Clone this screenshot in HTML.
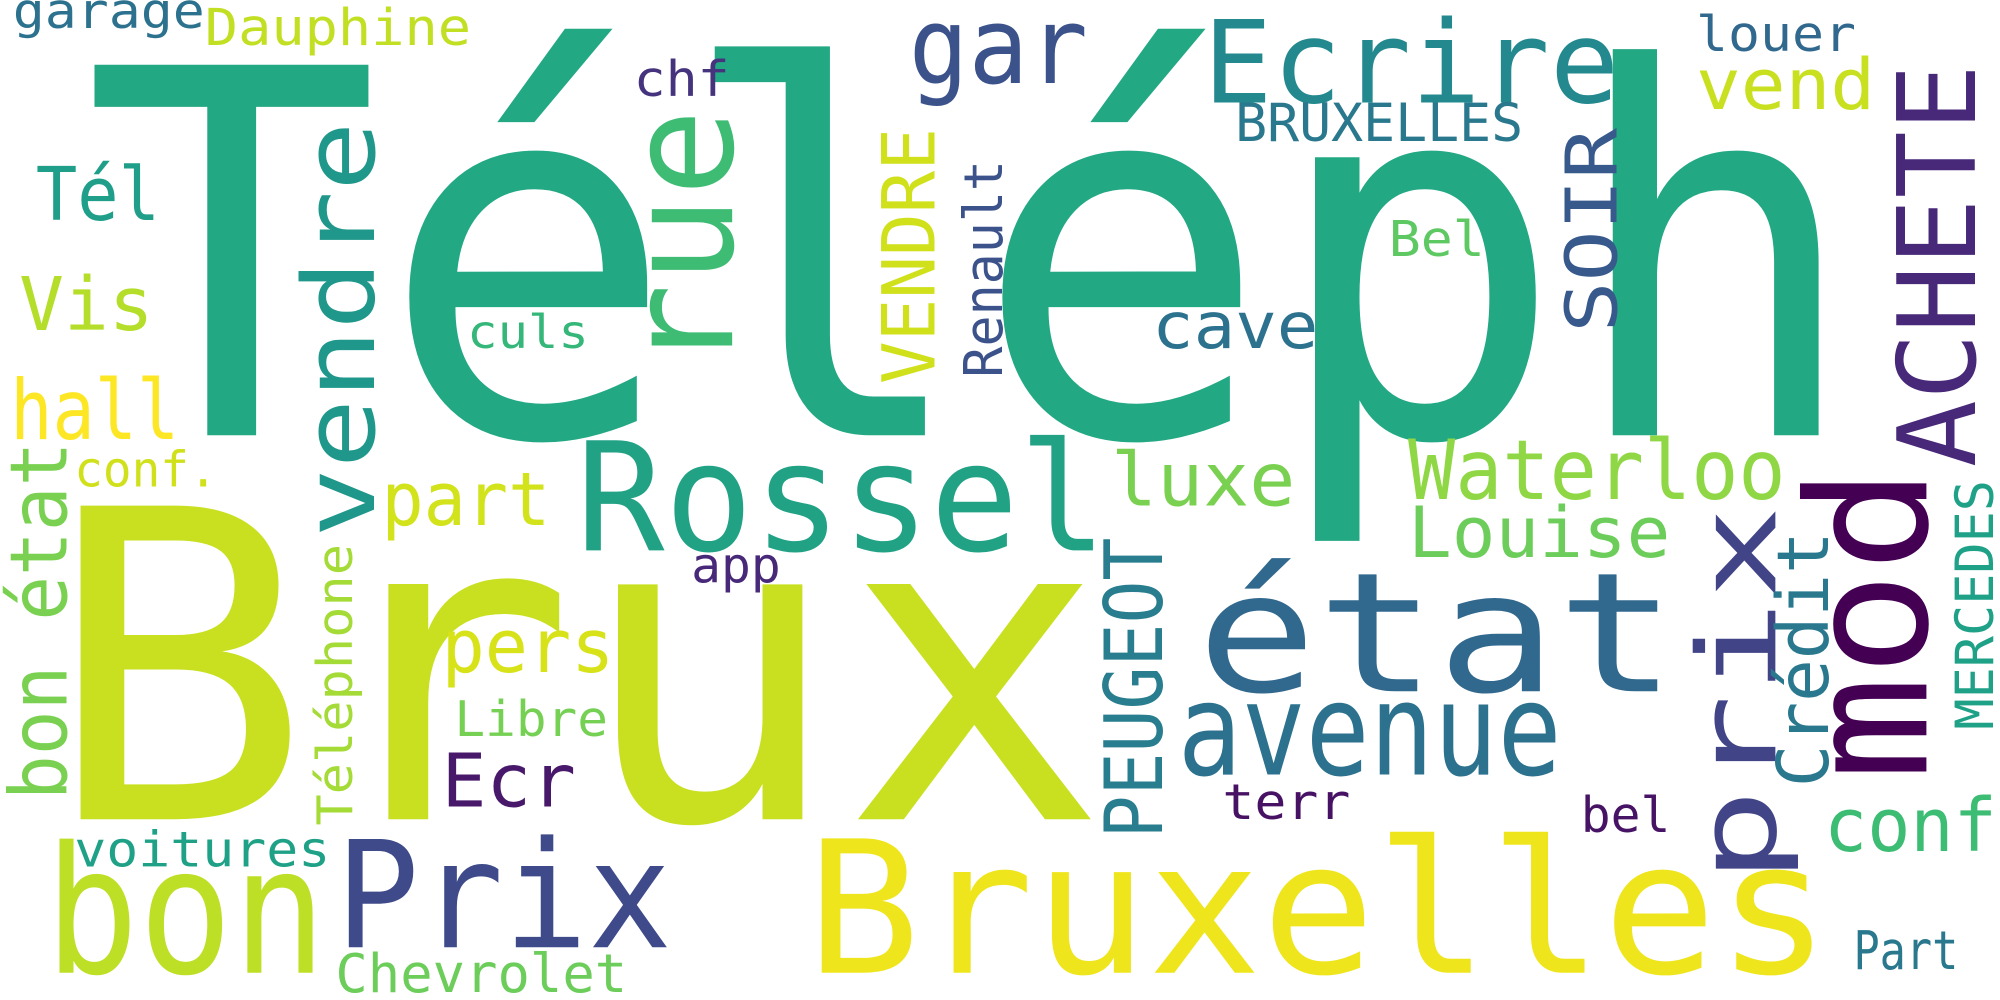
<!DOCTYPE html>
<html><head><meta charset="utf-8"><style>
html,body{margin:0;padding:0;background:#fff;}
svg{display:block;}
text{font-family:"DejaVu Sans Mono","Liberation Mono",monospace;}
</style></head><body>
<svg width="2000" height="1000" viewBox="0 0 1562.5 781.25" xmlns="http://www.w3.org/2000/svg">
<rect width="1562.5" height="781.25" fill="#fff"/>
<g lengthAdjust="spacingAndGlyphs">
<text x="65" y="340" font-size="397" fill="#23a884" textLength="1390" lengthAdjust="spacingAndGlyphs">Téléph</text>
<text x="35" y="640" font-size="336" fill="#c8e020" textLength="830" lengthAdjust="spacingAndGlyphs">Brux</text>
<text x="630" y="760" font-size="144" fill="#efe51c" textLength="800" lengthAdjust="spacingAndGlyphs">Bruxelles</text>
<text x="35" y="760" font-size="138" fill="#bddf26" textLength="220" lengthAdjust="spacingAndGlyphs">bon</text>
<text x="262" y="740" font-size="116" fill="#3e4a89" textLength="263" lengthAdjust="spacingAndGlyphs">Prix</text>
<text x="450" y="430" font-size="118" fill="#22a285" textLength="415" lengthAdjust="spacingAndGlyphs">Rossel</text>
<text x="935" y="540" font-size="130" fill="#31688e" textLength="375" lengthAdjust="spacingAndGlyphs">état</text>
<text x="920" y="605" font-size="100" fill="#2c728e" textLength="300" lengthAdjust="spacingAndGlyphs">avenue</text>
<text x="940" y="80" font-size="89" fill="#23898e" textLength="325" lengthAdjust="spacingAndGlyphs">Ecrire</text>
<text x="710" y="65" font-size="83" fill="#3b528b" textLength="140" lengthAdjust="spacingAndGlyphs">gar</text>
<text x="495" y="75" font-size="38" fill="#46337e" textLength="75" lengthAdjust="spacingAndGlyphs">chf</text>
<text x="1325" y="40" font-size="38" fill="#31688e" textLength="125" lengthAdjust="spacingAndGlyphs">louer</text>
<text x="965" y="110" font-size="41" fill="#2a788e" textLength="225" lengthAdjust="spacingAndGlyphs">BRUXELLES</text>
<text x="1325" y="85" font-size="55" fill="#c8e020" textLength="140" lengthAdjust="spacingAndGlyphs">vend</text>
<text x="10" y="22" font-size="38" fill="#2c728e" textLength="150" lengthAdjust="spacingAndGlyphs">garage</text>
<text x="160" y="35" font-size="40" fill="#c2df23" textLength="208" lengthAdjust="spacingAndGlyphs">Dauphine</text>
<text x="28" y="172" font-size="58" fill="#1f9e89" textLength="97" lengthAdjust="spacingAndGlyphs">Tél</text>
<text x="15" y="258" font-size="58" fill="#b5de2b" textLength="105" lengthAdjust="spacingAndGlyphs">Vis</text>
<text x="8" y="343" font-size="65" fill="#fde725" textLength="132" lengthAdjust="spacingAndGlyphs">hall</text>
<text x="58" y="380" font-size="38" fill="#d0e11c" textLength="112" lengthAdjust="spacingAndGlyphs">conf.</text>
<text x="900" y="272" font-size="50" fill="#2c728e" textLength="130" lengthAdjust="spacingAndGlyphs">cave</text>
<text x="365" y="272" font-size="36" fill="#35b779" textLength="95" lengthAdjust="spacingAndGlyphs">culs</text>
<text x="1085" y="200" font-size="38" fill="#5ec962" textLength="75" lengthAdjust="spacingAndGlyphs">Bel</text>
<text x="868" y="395" font-size="58" fill="#7ad151" textLength="144" lengthAdjust="spacingAndGlyphs">luxe</text>
<text x="1100" y="390" font-size="65" fill="#8fd744" textLength="295" lengthAdjust="spacingAndGlyphs">Waterloo</text>
<text x="1100" y="435" font-size="55" fill="#6ccd5a" textLength="205" lengthAdjust="spacingAndGlyphs">Louise</text>
<text x="298" y="410" font-size="58" fill="#d2e21b" textLength="132" lengthAdjust="spacingAndGlyphs">part</text>
<text x="540" y="455" font-size="38" fill="#482878" textLength="70" lengthAdjust="spacingAndGlyphs">app</text>
<text x="345" y="525" font-size="58" fill="#d8e219" textLength="135" lengthAdjust="spacingAndGlyphs">pers</text>
<text x="345" y="630" font-size="58" fill="#48186a" textLength="105" lengthAdjust="spacingAndGlyphs">Ecr</text>
<text x="355" y="575" font-size="38" fill="#75d054" textLength="120" lengthAdjust="spacingAndGlyphs">Libre</text>
<text x="955" y="640" font-size="38" fill="#471164" textLength="100" lengthAdjust="spacingAndGlyphs">terr</text>
<text x="1235" y="650" font-size="38" fill="#471365" textLength="70" lengthAdjust="spacingAndGlyphs">bel</text>
<text x="1425" y="665" font-size="58" fill="#3dbc74" textLength="135" lengthAdjust="spacingAndGlyphs">conf</text>
<text x="58" y="677" font-size="38" fill="#1fa187" textLength="200" lengthAdjust="spacingAndGlyphs">voitures</text>
<text x="262" y="775" font-size="42" fill="#6ccd5a" textLength="228" lengthAdjust="spacingAndGlyphs">Chevrolet</text>
<text x="1448" y="757" font-size="42" fill="#2a788e" textLength="82" lengthAdjust="spacingAndGlyphs">Part</text>

<text transform="translate(292,420) rotate(-90)" font-size="77" fill="#1f988b" textLength="325" lengthAdjust="spacingAndGlyphs">vendre</text>
<text transform="translate(572,290) rotate(-90)" font-size="115" fill="#3ebc74" textLength="205" lengthAdjust="spacingAndGlyphs">rue</text>
<text transform="translate(52,625) rotate(-90)" font-size="62" fill="#7ad151" textLength="280" lengthAdjust="spacingAndGlyphs">bon état</text>
<text transform="translate(275,645) rotate(-90)" font-size="38" fill="#a5db36" textLength="220" lengthAdjust="spacingAndGlyphs">Téléphone</text>
<text transform="translate(730,300) rotate(-90)" font-size="57" fill="#d0e11c" textLength="200" lengthAdjust="spacingAndGlyphs">VENDRE</text>
<text transform="translate(783,295) rotate(-90)" font-size="42" fill="#3b528b" textLength="170" lengthAdjust="spacingAndGlyphs">Renault</text>
<text transform="translate(1263,260) rotate(-90)" font-size="56" fill="#38598c" textLength="160" lengthAdjust="spacingAndGlyphs">SOIR</text>
<text transform="translate(1543,365) rotate(-90)" font-size="84" fill="#482878" textLength="315" lengthAdjust="spacingAndGlyphs">ACHETE</text>
<text transform="translate(1505,610) rotate(-90)" font-size="130" fill="#440154" textLength="245" lengthAdjust="spacingAndGlyphs">mod</text>
<text transform="translate(1387,690) rotate(-90)" font-size="85" fill="#414487" textLength="295" lengthAdjust="spacingAndGlyphs">prix</text>
<text transform="translate(908,655) rotate(-90)" font-size="63" fill="#287d8e" textLength="235" lengthAdjust="spacingAndGlyphs">PEUGEOT</text>
<text transform="translate(1428,615) rotate(-90)" font-size="56" fill="#2a788e" textLength="200" lengthAdjust="spacingAndGlyphs">Crédit</text>
<text transform="translate(1557,570) rotate(-90)" font-size="41" fill="#1fa187" textLength="195" lengthAdjust="spacingAndGlyphs">MERCEDES</text>
</g>
</svg>
</body></html>
